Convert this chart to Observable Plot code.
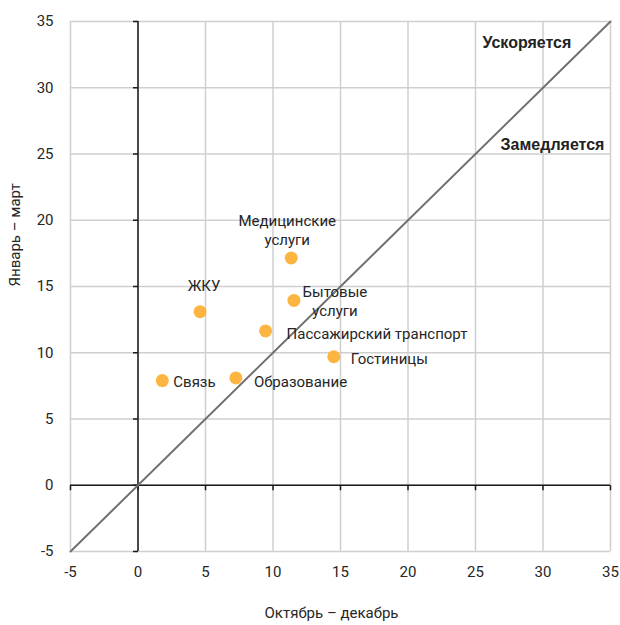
<!DOCTYPE html>
<html>
<head>
<meta charset="utf-8">
<script src="https://cdn.jsdelivr.net/npm/d3@7"></script>
<script src="https://cdn.jsdelivr.net/npm/@observablehq/plot@0.6"></script>
<style>
  html, body { margin: 0; padding: 0; background: #fff; }
</style>
</head>
<body>
<div id="chart"></div>
<script>
// ---- data ----
const categories = ["Связь", "ЖКУ", "Образование", "Пассажирский транспорт", "Медицинские\nуслуги", "Бытовые\nуслуги", "Гостиницы"];
const octDec = [1.8, 4.6, 7.25, 9.45, 11.35, 11.55, 14.5];   // x: Октябрь – декабрь
const janMar = [7.9, 13.1, 8.1, 11.65, 17.15, 13.95, 9.7];   // y: Январь – март
const xTicks = [-5, 0, 5, 10, 15, 20, 25, 30, 35];
const yTicks = [-5, 0, 5, 10, 15, 20, 25, 30, 35];
const diagonal = [-5, 35];
const zoneLabels = ["Ускоряется", "Замедляется"];
const zoneX = [32.1, 34.55];
const zoneY = [33.4, 25.7];
const xLabel = "Октябрь – декабрь";
const yLabel = "Январь – март";

// ---- label placement (style) ----
const labelStyle = {
  "Связь": {dx: 11, dy: 0, anchor: "start"},
  "ЖКУ": {dx: 4, dy: -27, anchor: "middle"},
  "Образование": {dx: 18, dy: 3, anchor: "start"},
  "Пассажирский транспорт": {dx: 21, dy: 2, anchor: "start"},
  "Медицинские\nуслуги": {dx: -4, dy: -29, anchor: "middle"},
  "Бытовые\nуслуги": {dx: 41, dy: 0, anchor: "middle"},
  "Гостиницы": {dx: 17, dy: 1, anchor: "start"}
};

const points = categories.map((c, i) => ({name: c, x: octDec[i], y: janMar[i]}));
const zones = zoneLabels.map((t, i) => ({text: t, x: zoneX[i], y: zoneY[i]}));

const tickLeft = {draw(ctx) { ctx.moveTo(-5, 0); ctx.lineTo(0, 0); }};
const tickDown = {draw(ctx) { ctx.moveTo(0, 0); ctx.lineTo(0, 5); }};

const font = "Roboto, 'Noto Sans', sans-serif";
const textColor = "#262626";

const labelMarks = categories.map(c => {
  const s = labelStyle[c];
  return Plot.text(points.filter(p => p.name === c), {
    x: "x", y: "y", text: "name",
    dx: s.dx, dy: s.dy, textAnchor: s.anchor,
    fontSize: 15, fill: textColor, lineHeight: 1.27, fontFamily: font
  });
});

const chart = Plot.plot({
  width: 620,
  height: 625,
  marginLeft: 70,
  marginRight: 10,
  marginTop: 21,
  marginBottom: 74,
  style: {fontFamily: font, background: "#fff"},
  x: {domain: [-5, 35], ticks: xTicks},
  y: {domain: [-5, 35], ticks: yTicks},
  marks: [
    Plot.gridX(xTicks, {stroke: "#cfcfcf", strokeOpacity: 1, strokeWidth: 1.5}),
    Plot.gridY(yTicks, {stroke: "#cfcfcf", strokeOpacity: 1, strokeWidth: 1.5}),
    Plot.ruleX([0], {stroke: "#1a1a1a", strokeWidth: 1.5}),
    Plot.ruleY([0], {stroke: "#1a1a1a", strokeWidth: 1.5}),
    Plot.dot(yTicks, {x: 0, y: d => d, symbol: tickLeft, stroke: "#1a1a1a", fill: "none", strokeWidth: 1.5}),
    Plot.dot(xTicks, {x: d => d, y: 0, symbol: tickDown, stroke: "#1a1a1a", fill: "none", strokeWidth: 1.5}),
    Plot.line(diagonal, {x: d => d, y: d => d, stroke: "#707070", strokeWidth: 2}),
    Plot.axisX(xTicks, {tickSize: 0, tickPadding: 15, fontSize: 15, label: null, fill: textColor, tickFormat: d => String(d)}),
    Plot.axisY(yTicks, {tickSize: 0, tickPadding: 17, fontSize: 15, label: null, fill: textColor, tickFormat: d => String(d)}),
    Plot.dot(points, {x: "x", y: "y", r: 6.5, fill: "#FDB542", stroke: null}),
    ...labelMarks,
    Plot.text(zones, {x: "x", y: "y", text: "text", textAnchor: "end", fontSize: 16, fontWeight: "bold",
      fontFamily: "'Liberation Sans', Arial, sans-serif", fill: "#222"}),
    Plot.text([xLabel], {frameAnchor: "bottom", dy: 66, dx: -9, text: d => d, fontSize: 15, fill: textColor}),
    Plot.text([yLabel], {frameAnchor: "left", dx: -55, rotate: -90, text: d => d, fontSize: 15, fill: textColor})
  ]
});

document.getElementById("chart").appendChild(chart);
</script>
</body>
</html>
